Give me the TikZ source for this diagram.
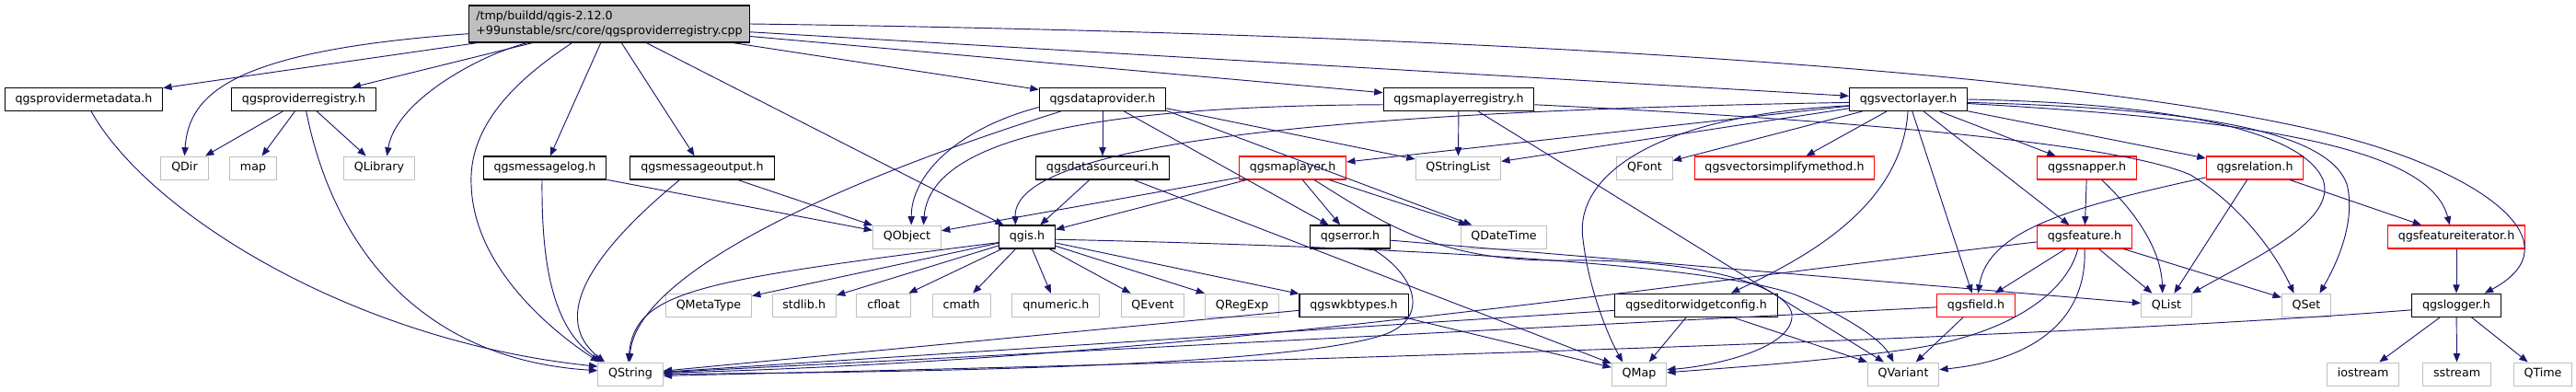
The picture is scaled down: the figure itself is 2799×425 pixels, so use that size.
\documentclass[tikz,border=0pt]{standalone}
\usepackage{fontspec}
\setmainfont{DejaVu Sans}
\usetikzlibrary{arrows.meta}

\definecolor{depblue}{RGB}{25,25,112}
\definecolor{sysgray}{RGB}{191,191,191}

\begin{document}
\begin{tikzpicture}[x=0.75pt, y=-0.75pt,
    inclbase/.style={draw=black, fill=white, line width=0.8pt, inner xsep=8.5pt,
        inner ysep=0pt, font=\fontsize{9.5}{12}\selectfont},
    incl/.style={inclbase, minimum height=18.75pt, text height=7.2pt, text depth=2.2pt},
    incltrunc/.style={incl, draw=red},
    inclsys/.style={incl, draw=sysgray, line width=0.75pt},
    dep/.style={depblue, line width=0.7pt, -{Triangle[length=7pt, width=5.5pt]}}]

    \useasboundingbox (0,0) rectangle (2799,425);

    % ============================================================
    % SOURCE FILE
    % ============================================================
    \node[inclbase, fill=sysgray, align=left, inner xsep=6pt, minimum height=30pt]
        (cpp) at (662,26)
        {/tmp/buildd/qgis-2.12.0\\+99unstable/src/core/qgsproviderregistry.cpp};

    % ============================================================
    % FIRST LEVEL HEADERS
    % ============================================================
    \node[incl] (provmeta) at (91,108) {qgsprovidermetadata.h};
    \node[incl] (provreg) at (330,108) {qgsproviderregistry.h};
    \node[incl] (dataprov) at (1198,108) {qgsdataprovider.h};
    \node[incl] (mlreg) at (1585,108) {qgsmaplayerregistry.h};
    \node[incl] (veclayer) at (2073.5,108) {qgsvectorlayer.h};

    % ============================================================
    % SECOND ROW
    % ============================================================
    \node[inclsys] (qdir) at (200.5,182.5) {QDir};
    \node[inclsys] (map) at (275,182.5) {map};
    \node[inclsys] (qlib) at (412,182.5) {QLibrary};
    \node[incl] (msglog) at (592,182.5) {qgsmessagelog.h};
    \node[incl] (msgout) at (763,182.5) {qgsmessageoutput.h};
    \node[incl] (dsuri) at (1198,182.5) {qgsdatasourceuri.h};
    \node[incltrunc] (mlayer) at (1404.5,182.5) {qgsmaplayer.h};
    \node[inclsys] (qstrlist) at (1584.4,182.5) {QStringList};
    \node[inclsys] (qfont) at (1787,182.5) {QFont};
    \node[incltrunc] (vsimp) at (1939,182.5) {qgsvectorsimplifymethod.h};
    \node[incltrunc] (snap) at (2267.6,182.5) {qgssnapper.h};
    \node[incltrunc] (rel) at (2450,182.5) {qgsrelation.h};

    % ============================================================
    % THIRD ROW
    % ============================================================
    \node[inclsys] (qobj) at (985.5,257.5) {QObject};
    \node[incl] (qgis) at (1116,257.5) {qgis.h};
    \node[incl] (qerr) at (1467,257.5) {qgserror.h};
    \node[inclsys] (qdatetime) at (1634,257.5) {QDateTime};
    \node[incltrunc] (feat) at (2265,257.5) {qgsfeature.h};
    \node[incltrunc] (fit) at (2669,257.5) {qgsfeatureiterator.h};

    % ============================================================
    % FOURTH ROW
    % ============================================================
    \node[inclsys] (qmeta) at (770,331.7) {QMetaType};
    \node[inclsys] (stdlib) at (873.7,331.7) {stdlib.h};
    \node[inclsys] (cfloat) at (960,331.7) {cfloat};
    \node[inclsys] (cmath) at (1044.7,331.7) {cmath};
    \node[inclsys] (qnum) at (1147.3,331.7) {qnumeric.h};
    \node[inclsys] (qevent) at (1252.5,331.7) {QEvent};
    \node[inclsys] (qregexp) at (1349.7,331.7) {QRegExp};
    \node[incl] (wkb) at (1471,331.7) {qgswkbtypes.h};
    \node[incl] (ewc) at (1843,331.7) {qgseditorwidgetconfig.h};
    \node[incltrunc] (field) at (2147,331.7) {qgsfield.h};
    \node[inclsys] (qlist) at (2354,331.7) {QList};
    \node[inclsys] (qset) at (2506,331.7) {QSet};
    \node[incl] (logger) at (2669,331.7) {qgslogger.h};

    % ============================================================
    % BOTTOM ROW
    % ============================================================
    \node[inclsys] (qstr) at (685,406.5) {QString};
    \node[inclsys] (qmap) at (1781,406.5) {QMap};
    \node[inclsys] (qvar) at (2068,406.5) {QVariant};
    \node[inclsys] (iostream) at (2567.7,406.5) {iostream};
    \node[inclsys] (sstream) at (2669.6,406.5) {sstream};
    \node[inclsys] (qtime) at (2763,406.5) {QTime};

    % ============================================================
    % INCLUDES OF THE SOURCE FILE
    % ============================================================
    \foreach \dst in {provmeta, provreg, msglog, msgout, qgis, dataprov, mlreg, veclayer}
        \draw[dep] (cpp) -- (\dst);
    \draw[dep] (cpp.184) .. controls (252,55) and (205,102) .. (qdir.north);
    \draw[dep] (cpp.193) .. controls (520,60) and (430,110) .. (qlib.57);
    \draw[dep] (cpp.207) .. controls (540,100) and (510,150) .. (512,200)
        .. controls (514,290) and (600,360) .. (qstr.159);
    \draw[dep] (cpp.east) .. controls (1500,35) and (2250,70) .. (2550,150)
        .. controls (2700,190) and (2800,265) .. (logger.23);

    % ============================================================
    % PROVIDER AND MESSAGE HEADERS
    % ============================================================
    \draw[dep] (provmeta.-58) .. controls (160,230) and (380,370) .. (qstr.167);
    \foreach \dst in {qdir, map, qlib}
        \draw[dep] (provreg) -- (\dst);
    \draw[dep] (provreg.-78) .. controls (360,260) and (450,390) .. (qstr.174);
    \draw[dep] (msglog) -- (qobj);
    \draw[dep] (msglog.-103) .. controls (588,300) and (605,360) .. (qstr.157);
    \draw[dep] (msgout) -- (qobj);
    \draw[dep] (msgout.208) .. controls (660,260) and (590,340) .. (qstr.155);

    % ============================================================
    % DATA PROVIDER
    % ============================================================
    \draw[dep] (dataprov.187) .. controls (1040,140) and (990,190) .. (qobj.70);
    \draw[dep] (dataprov.196) .. controls (900,200) and (690,300) .. (qstr.94);
    \draw[dep] (dataprov) -- (dsuri);
    \draw[dep] (dataprov) -- (qerr);
    \draw[dep] (dataprov.-8) -- (qstrlist);
    \draw[dep] (dataprov.-10) -- (qdatetime);
    \draw[dep] (dsuri) -- (qgis);
    \draw[dep] (dsuri) -- (qmap);

    % ============================================================
    % MAP LAYER
    % ============================================================
    \foreach \dst in {qobj, qgis, qerr, qdatetime}
        \draw[dep] (mlayer) -- (\dst);
    \draw[dep] (mlayer.-29) .. controls (1500,240) and (1560,285) .. (1700,283)
        .. controls (1860,281) and (1950,315) .. (1947,345)
        .. controls (1944,380) and (1860,398) .. (qmap.9);

    % ============================================================
    % QGIS.H
    % ============================================================
    \foreach \dst in {qmeta, stdlib, cfloat, cmath, qnum, qevent, qregexp, wkb}
        \draw[dep] (qgis) -- (\dst);
    \draw[dep] (qgis.191) .. controls (760,305) and (690,315) .. (qstr.100);
    \draw[dep] (qgis.-5) .. controls (1500,268) and (1850,285) .. (1950,320)
        .. controls (2010,345) and (2045,370) .. (qvar.129);
    \draw[dep] (qerr) -- (qlist);
    \draw[dep] (qerr.-28) .. controls (1540,300) and (1555,348) .. (1500,365)
        .. controls (1380,402) and (900,405) .. (qstr.east);
    \draw[dep] (wkb) -- (qstr);
    \draw[dep] (wkb) -- (qmap);

    % ============================================================
    % MAP LAYER REGISTRY
    % ============================================================
    \draw[dep] (mlreg) -- (qstrlist);
    \draw[dep] (mlreg) -- (qvar);
    \draw[dep] (mlreg.184) .. controls (1150,115) and (1010,160) .. (qobj.36);
    \draw[dep] (mlreg.-4) .. controls (2000,130) and (2300,155) .. (2380,190)
        .. controls (2430,220) and (2470,270) .. (qset.136);

    % ============================================================
    % VECTOR LAYER
    % ============================================================
    \foreach \dst in {mlayer, qstrlist, qfont, vsimp, field, feat, snap, rel}
        \draw[dep] (veclayer) -- (\dst);
    \draw[dep] (veclayer.183) .. controls (1500,120) and (1100,150) .. (qgis.134);
    \draw[dep] (veclayer.186) .. controls (1800,125) and (1710,190) .. (1720,260)
        .. controls (1727,320) and (1750,370) .. (qmap.144);
    \draw[dep] (veclayer.-92) .. controls (2066,230) and (1950,285) .. (ewc.19);
    \draw[dep] (veclayer.east) .. controls (2350,112) and (2500,140) .. (2524,195)
        .. controls (2540,240) and (2450,280) .. (qlist.north east);
    \draw[dep] (veclayer.-3) .. controls (2400,118) and (2530,145) .. (2550,200)
        .. controls (2560,240) and (2540,285) .. (qset.42);
    \draw[dep] (veclayer.-4) .. controls (2450,130) and (2640,160) .. (fit.119);

    % ============================================================
    % SNAPPER, RELATION, FEATURE
    % ============================================================
    \draw[dep] (snap) -- (feat);
    \draw[dep] (snap.-39) .. controls (2320,230) and (2348,270) .. (qlist.108);
    \draw[dep] (rel) -- (qlist);
    \draw[dep] (rel) -- (fit);
    \draw[dep] (rel.191) .. controls (2250,225) and (2160,250) .. (field.80);
    \foreach \dst in {field, qlist, qset}
        \draw[dep] (feat) -- (\dst);
    \draw[dep] (feat.186) .. controls (1800,310) and (1300,390) .. (qstr.2);
    \draw[dep] (feat.-119) .. controls (2245,320) and (2180,365) .. (2070,380)
        .. controls (1960,395) and (1870,400) .. (qmap.3);
    \draw[dep] (feat.-90) .. controls (2268,340) and (2220,390) .. (qvar.7);
    \draw[dep] (field) -- (qvar);
    \draw[dep] (field) -- (qstr);
    \foreach \dst in {qmap, qvar, qstr}
        \draw[dep] (ewc) -- (\dst);

    % ============================================================
    % LOGGER
    % ============================================================
    \draw[dep] (fit) -- (logger);
    \foreach \dst in {iostream, sstream, qtime}
        \draw[dep] (logger) -- (\dst);
    \draw[dep] (logger.186) .. controls (2200,370) and (1300,395) .. (qstr.-3);

\end{tikzpicture}
\end{document}
